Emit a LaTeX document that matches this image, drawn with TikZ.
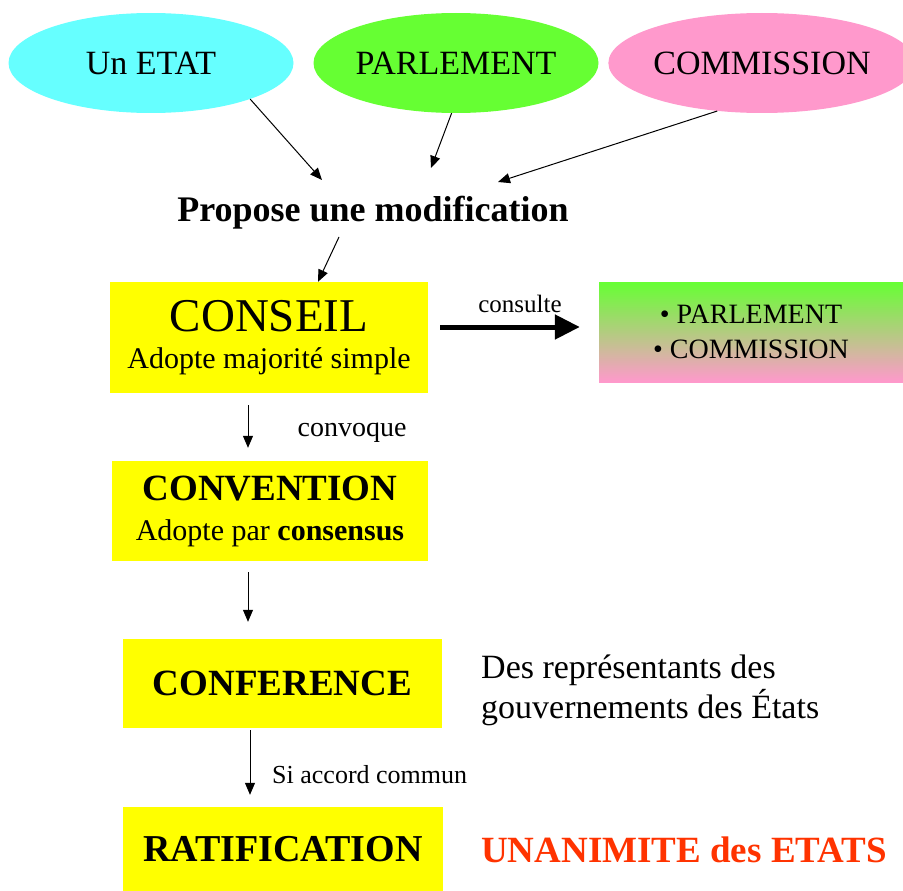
\documentclass[tikz,border=0pt]{standalone}
\usepackage{fontspec}
\setmainfont{Liberation Serif}
\usetikzlibrary{shapes.geometric,arrows.meta,calc}
\definecolor{etatcyan}{RGB}{102,255,255}
\definecolor{parlgreen}{RGB}{102,255,51}
\definecolor{commpink}{RGB}{255,153,204}
\definecolor{boxyellow}{RGB}{255,255,0}
\definecolor{unanred}{RGB}{255,51,0}
\newcommand{\sz}[2]{\fontsize{#1}{#2}\selectfont}
\begin{document}
\begin{tikzpicture}
[x=1pt,y=-1pt,
  ovaldecorate/.style={shape=ellipse,minimum width=285pt,minimum height=100pt,inner sep=0pt,font=\sz{34}{40}},%
  boxdecorate/.style={shape=rectangle,fill=boxyellow,inner sep=0pt,align=center},%
  labeldecorate/.style={inner sep=0pt},%
  linedecorate/.style={-{Triangle[length=12pt,width=10pt]},line width=1pt},%
  thickdecorate/.style={-{Triangle[length=25pt,width=24pt]},line width=5pt}]
\useasboundingbox (0,0) rectangle (903,891);
% nodes or vertices
\node (etat) at (151,63) [ovaldecorate,fill=etatcyan] {Un ETAT};
\node (parl) at (456,63) [ovaldecorate,fill=parlgreen] {PARLEMENT};
\node (comm) at (762,63) [ovaldecorate,fill=commpink] {COMMISSION};
\node (propose) at (373,213) [labeldecorate,font=\bfseries\sz{36}{40}] {Propose une modification};
\node (conseil) at (269,337.5) [boxdecorate,minimum width=318pt,minimum height=111pt,font=\sz{30}{37}]
  {\sz{47}{37}CONSEIL\\\sz{30}{37}Adopte majorité simple};
\node (consult) at (751,332) [minimum width=304pt,minimum height=100pt,inner sep=0pt,
  top color=parlgreen,bottom color=commpink,align=center,font=\sz{28}{35}]
  {\textbullet\ PARLEMENT\\\textbullet\ COMMISSION};
\node (convention) at (270,511) [boxdecorate,minimum width=316pt,minimum height=100pt,font=\sz{30}{40}]
  {\bfseries\sz{37}{40}CONVENTION\\\mdseries\sz{30}{40}Adopte par \textbf{consensus}};
\node (conference) at (282.5,683.5) [boxdecorate,minimum width=319pt,minimum height=89pt,font=\bfseries\sz{37}{44}] {CONFERENCE};
\node (ratif) at (283,849) [boxdecorate,minimum width=320pt,minimum height=84pt,font=\bfseries\sz{38}{44}] {RATIFICATION};
\node (repr) at (481,690) [labeldecorate,anchor=west,align=left,font=\sz{34}{40}]
  {Des représentants des\\gouvernements des États};
\node (unan) at (481,850) [labeldecorate,anchor=west,text=unanred,font=\bfseries\sz{37}{44}] {UNANIMITE des ETATS};
% labels
\node (consulte) at (520,304) [labeldecorate,font=\sz{25}{30}] {consulte};
\node (convoque) at (352,433) [labeldecorate,font=\sz{28}{32}] {convoque};
\node (accord) at (272,775) [labeldecorate,anchor=west,font=\sz{26}{30}] {Si accord commun};
% free ends
\coordinate (etattip) at (322,180);
\coordinate (parltip) at (431,168);
\coordinate (commtip) at (498,182);
\coordinate (proposefoot) at (339,237);
% edges or lines
\path
(etat.-20) edge[linedecorate] (etattip)
(parl.-95) edge[linedecorate] (parltip)
(comm.-133) edge[linedecorate] (commtip)
(proposefoot) edge[linedecorate] ($(conseil.north)+(49,0)$)
($(conseil.east)+(12,-10.5)$) edge[thickdecorate] ($(consult.west)+(-19,-5)$)
($(conseil.south)+(-21,12)$) edge[linedecorate] ($(convention.north)+(-22,-13)$)
($(convention.south)+(-22,11)$) edge[linedecorate] ($(conference.north)+(-34.5,-17)$)
($(conference.south)+(-32.5,2)$) edge[linedecorate] ($(ratif.north)+(-33,-12)$);
\end{tikzpicture}
\end{document}
